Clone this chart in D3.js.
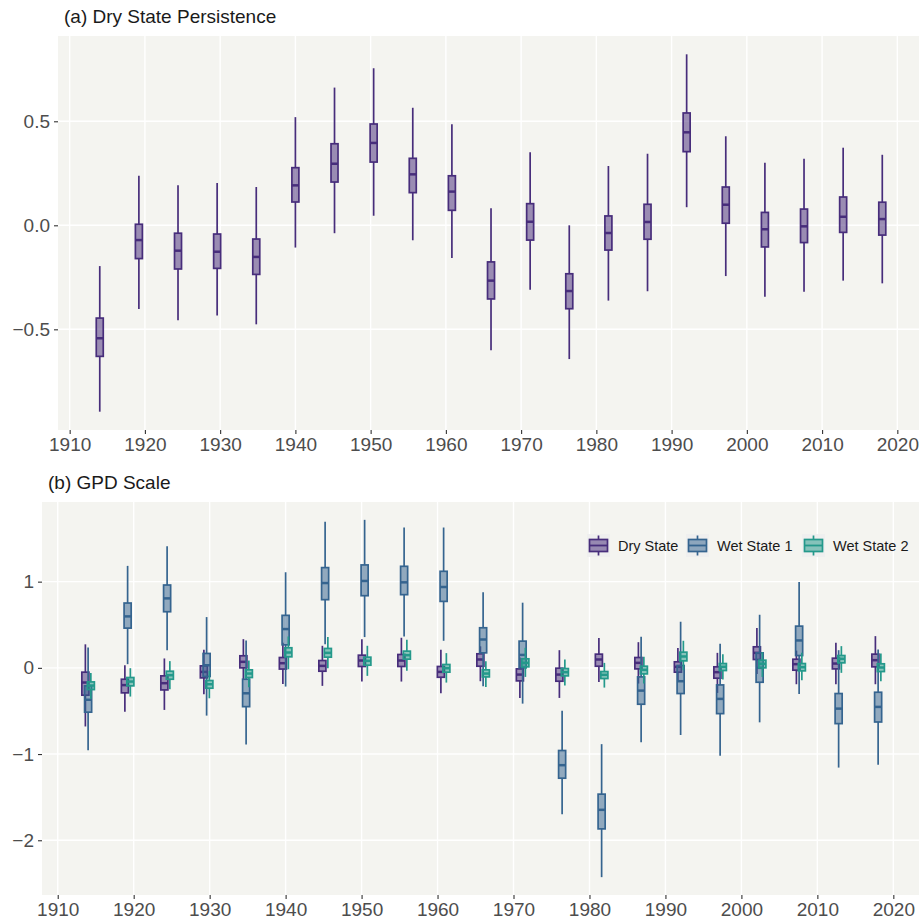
<!DOCTYPE html>
<html>
<head>
<meta charset="utf-8">
<script src="https://cdn.jsdelivr.net/npm/d3@7"></script>
<style>
  body { margin: 0; background: #fff; }
  svg { display: block; font-family: "Liberation Sans", Arial, sans-serif; }
</style>
</head>
<body>
<svg id="chart" width="922" height="922"></svg>
<script>
// window centres (years) shared by both panels
var periods = [1914, 1919.2, 1924.4, 1929.6, 1934.8, 1940, 1945.2, 1950.4, 1955.6, 1960.8,
               1966, 1971.2, 1976.4, 1981.6, 1986.8, 1992, 1997.2, 2002.4, 2007.6, 2012.8, 2018];
var xTicks = [1910, 1920, 1930, 1940, 1950, 1960, 1970, 1980, 1990, 2000, 2010, 2020];

// each box: [lower whisker, q1, median, q3, upper whisker]
var persistence = [
  [-0.896, -0.63, -0.543, -0.446, -0.196],
  [-0.402, -0.16, -0.071, 0.005, 0.238],
  [-0.457, -0.21, -0.122, -0.038, 0.192],
  [-0.433, -0.207, -0.127, -0.042, 0.203],
  [-0.476, -0.236, -0.152, -0.066, 0.184],
  [-0.107, 0.112, 0.192, 0.277, 0.52],
  [-0.038, 0.208, 0.296, 0.392, 0.662],
  [0.046, 0.304, 0.396, 0.487, 0.755],
  [-0.072, 0.157, 0.245, 0.322, 0.565],
  [-0.157, 0.072, 0.162, 0.238, 0.486],
  [-0.601, -0.354, -0.266, -0.176, 0.082],
  [-0.31, -0.071, 0.017, 0.104, 0.351],
  [-0.643, -0.401, -0.316, -0.233, 0.0],
  [-0.362, -0.119, -0.037, 0.045, 0.285],
  [-0.317, -0.067, 0.016, 0.101, 0.344],
  [0.087, 0.354, 0.447, 0.54, 0.822],
  [-0.244, 0.01, 0.099, 0.184, 0.428],
  [-0.343, -0.104, -0.019, 0.062, 0.301],
  [-0.319, -0.083, -0.005, 0.078, 0.32],
  [-0.266, -0.034, 0.041, 0.136, 0.373],
  [-0.279, -0.047, 0.03, 0.111, 0.339]
];

var scaleDry = [
  [-0.68, -0.317, -0.17, -0.05, 0.273],
  [-0.508, -0.29, -0.2, -0.132, 0.031],
  [-0.488, -0.256, -0.178, -0.093, 0.109],
  [-0.306, -0.116, -0.047, 0.023, 0.209],
  [-0.14, 0.0, 0.07, 0.14, 0.333],
  [-0.186, -0.014, 0.054, 0.12, 0.29],
  [-0.209, -0.039, 0.023, 0.085, 0.256],
  [-0.159, 0.016, 0.085, 0.147, 0.333],
  [-0.159, 0.016, 0.085, 0.155, 0.349],
  [-0.295, -0.109, -0.047, 0.016, 0.209],
  [-0.155, 0.019, 0.097, 0.163, 0.25],
  [-0.349, -0.151, -0.078, -0.012, 0.12],
  [-0.349, -0.155, -0.078, -0.004, 0.205],
  [-0.163, 0.019, 0.097, 0.159, 0.345],
  [-0.182, -0.012, 0.058, 0.12, 0.298],
  [-0.14, -0.05, 0.012, 0.07, 0.229],
  [-0.291, -0.12, -0.05, 0.012, 0.174],
  [-0.07, 0.097, 0.174, 0.244, 0.461],
  [-0.19, -0.027, 0.043, 0.1, 0.2],
  [-0.19, -0.012, 0.05, 0.112, 0.291],
  [-0.19, 0.012, 0.089, 0.159, 0.368]
];

var scaleWet1 = [
  [-0.955, -0.514, -0.37, -0.209, 0.235],
  [0.043, 0.461, 0.597, 0.752, 1.183],
  [0.205, 0.651, 0.806, 0.961, 1.412],
  [-0.554, -0.1, 0.03, 0.167, 0.589],
  [-0.888, -0.45, -0.295, -0.132, 0.318],
  [-0.217, 0.267, 0.45, 0.609, 1.109],
  [0.275, 0.791, 0.984, 1.163, 1.694],
  [0.357, 0.837, 1.008, 1.194, 1.717],
  [0.364, 0.849, 0.992, 1.178, 1.628],
  [0.314, 0.771, 0.938, 1.12, 1.628],
  [-0.213, 0.174, 0.329, 0.465, 0.877],
  [-0.415, 0.0, 0.15, 0.31, 0.756],
  [-1.697, -1.28, -1.129, -0.959, -0.499],
  [-2.428, -1.868, -1.647, -1.465, -0.885],
  [-0.864, -0.422, -0.264, -0.105, 0.36],
  [-0.779, -0.298, -0.155, 0.027, 0.535],
  [-1.019, -0.531, -0.36, -0.198, 0.279],
  [-0.632, -0.167, 0.0, 0.174, 0.616],
  [-0.302, 0.143, 0.318, 0.484, 0.995],
  [-1.157, -0.647, -0.473, -0.298, 0.205],
  [-1.125, -0.628, -0.453, -0.283, 0.213]
];

var scaleWet2 = [
  [-0.36, -0.252, -0.205, -0.163, -0.06],
  [-0.333, -0.209, -0.159, -0.112, -0.004],
  [-0.248, -0.132, -0.085, -0.039, 0.078],
  [-0.353, -0.236, -0.19, -0.147, -0.035],
  [-0.225, -0.112, -0.066, -0.023, 0.085],
  [-0.016, 0.128, 0.178, 0.233, 0.364],
  [-0.004, 0.124, 0.174, 0.225, 0.357],
  [-0.093, 0.031, 0.081, 0.124, 0.256],
  [-0.035, 0.101, 0.147, 0.194, 0.326],
  [-0.171, -0.05, -0.004, 0.039, 0.171],
  [-0.221, -0.105, -0.066, -0.023, 0.078],
  [-0.105, 0.012, 0.058, 0.105, 0.233],
  [-0.205, -0.093, -0.05, -0.008, 0.097],
  [-0.229, -0.124, -0.081, -0.043, 0.058],
  [-0.182, -0.07, -0.023, 0.019, 0.128],
  [-0.027, 0.081, 0.132, 0.182, 0.314],
  [-0.136, -0.031, 0.012, 0.05, 0.159],
  [-0.105, 0.0, 0.047, 0.089, 0.182],
  [-0.143, -0.035, 0.008, 0.05, 0.174],
  [-0.058, 0.058, 0.105, 0.143, 0.252],
  [-0.155, -0.043, 0.004, 0.047, 0.167]
];

var stateNames = ["Dry State", "Wet State 1", "Wet State 2"];
var stateColors = ["#472d7b", "#35648f", "#24998b"];
var stateOffsets = [-0.36, 0, 0.36]; // dodge, in years

var yTicksA = [-0.5, 0, 0.5];
var yLabelsA = ["\u22120.5", "0.0", "0.5"];
var yTicksB = [-2, -1, 0, 1];
var yLabelsB = ["\u22122", "\u22121", "0", "1"];

var bg = "#f4f4f0";
var boxW = 0.93; // box width in years
var lineW = 1.7;
var svg = d3.select("#chart");

function panel(o) {
  var x = d3.scaleLinear().domain(o.xdom).range([o.left, o.right]);
  var y = d3.scaleLinear().domain(o.ydom).range([o.bottom, o.top]);
  var g = svg.append("g");

  g.append("rect")
    .attr("x", o.left).attr("y", o.top)
    .attr("width", o.right - o.left).attr("height", o.bottom - o.top)
    .attr("fill", bg);

  // grid
  g.selectAll(".gx").data(xTicks).join("line")
    .attr("x1", d => x(d)).attr("x2", d => x(d))
    .attr("y1", o.top).attr("y2", o.bottom)
    .attr("stroke", "#fff").attr("stroke-width", 1.4);
  g.selectAll(".gy").data(o.yticks).join("line")
    .attr("x1", o.left).attr("x2", o.right)
    .attr("y1", d => y(d)).attr("y2", d => y(d))
    .attr("stroke", "#fff").attr("stroke-width", 1.4);

  // axes
  var ax = g.append("g").attr("transform", "translate(0," + o.bottom + ")")
    .call(d3.axisBottom(x).tickValues(xTicks).tickFormat(d3.format("d")).tickSize(4).tickPadding(4));
  var ay = g.append("g").attr("transform", "translate(" + o.left + ",0)")
    .call(d3.axisLeft(y).tickValues(o.yticks).tickFormat((d, i) => o.ylabels[i]).tickSize(4).tickPadding(4));
  [ax, ay].forEach(a => {
    a.select(".domain").remove();
    a.selectAll(".tick line").attr("stroke", "#333").attr("stroke-width", 1.1);
    a.selectAll(".tick text").attr("fill", "#4d4d4d")
      .style("font-size", "19px").style("font-family", "Liberation Sans, Arial, sans-serif");
  });

  g.append("text").attr("x", o.left + 6).attr("y", o.top - 13)
    .attr("fill", "#1a1a1a").style("font-size", "19px").text(o.title);

  o.series.forEach(s => {
    var bx = g.append("g");
    s.data.forEach((d, i) => {
      var cx = periods[i] + s.offset;
      var x0 = x(cx - boxW / 2), x1 = x(cx + boxW / 2), xm = x(cx);
      bx.append("line").attr("x1", xm).attr("x2", xm)
        .attr("y1", y(d[0])).attr("y2", y(d[1]))
        .attr("stroke", s.color).attr("stroke-width", lineW);
      bx.append("line").attr("x1", xm).attr("x2", xm)
        .attr("y1", y(d[3])).attr("y2", y(d[4]))
        .attr("stroke", s.color).attr("stroke-width", lineW);
      bx.append("rect").attr("x", x0).attr("width", x1 - x0)
        .attr("y", y(d[3])).attr("height", y(d[1]) - y(d[3]))
        .attr("fill", s.color).attr("fill-opacity", 0.52)
        .attr("stroke", s.color).attr("stroke-width", lineW);
      bx.append("line").attr("x1", x0).attr("x2", x1)
        .attr("y1", y(d[2])).attr("y2", y(d[2]))
        .attr("stroke", s.color).attr("stroke-width", 2.5);
    });
  });
  return {x: x, y: y, g: g};
}

panel({
  left: 58, right: 919, top: 36, bottom: 430,
  xdom: [1908.45, 2022.88], ydom: [-0.984, 0.91],
  yticks: yTicksA, ylabels: yLabelsA,
  title: "(a) Dry State Persistence",
  series: [{data: persistence, color: stateColors[0], offset: 0}]
});

var pb = panel({
  left: 42, right: 919, top: 502, bottom: 895,
  xdom: [1907.93, 2023.38], ydom: [-2.635, 1.924],
  yticks: yTicksB, ylabels: yLabelsB,
  title: "(b) GPD Scale",
  series: [scaleDry, scaleWet1, scaleWet2].map((d, i) =>
    ({data: d, color: stateColors[i], offset: stateOffsets[i]}))
});

// legend
var keyX = [587, 686, 802];
var leg = svg.append("g");
stateNames.forEach((name, i) => {
  var k = leg.append("g").attr("transform", "translate(" + keyX[i] + ",534)");
  k.append("rect").attr("width", 23).attr("height", 23).attr("fill", "#efefef");
  k.append("line").attr("x1", 11.5).attr("x2", 11.5).attr("y1", 1.5).attr("y2", 21.5)
    .attr("stroke", stateColors[i]).attr("stroke-width", lineW);
  k.append("rect").attr("x", 2.5).attr("y", 5.5).attr("width", 18).attr("height", 12)
    .attr("fill", "#efefef").attr("stroke", "none");
  k.append("rect").attr("x", 2.5).attr("y", 5.5).attr("width", 18).attr("height", 12)
    .attr("fill", stateColors[i]).attr("fill-opacity", 0.52)
    .attr("stroke", stateColors[i]).attr("stroke-width", lineW);
  k.append("line").attr("x1", 2.5).attr("x2", 20.5).attr("y1", 11.5).attr("y2", 11.5)
    .attr("stroke", stateColors[i]).attr("stroke-width", 1.8);
  leg.append("text").attr("x", keyX[i] + 31).attr("y", 551)
    .attr("fill", "#1a1a1a").style("font-size", "14.5px").text(name);
});
</script>
</body>
</html>
